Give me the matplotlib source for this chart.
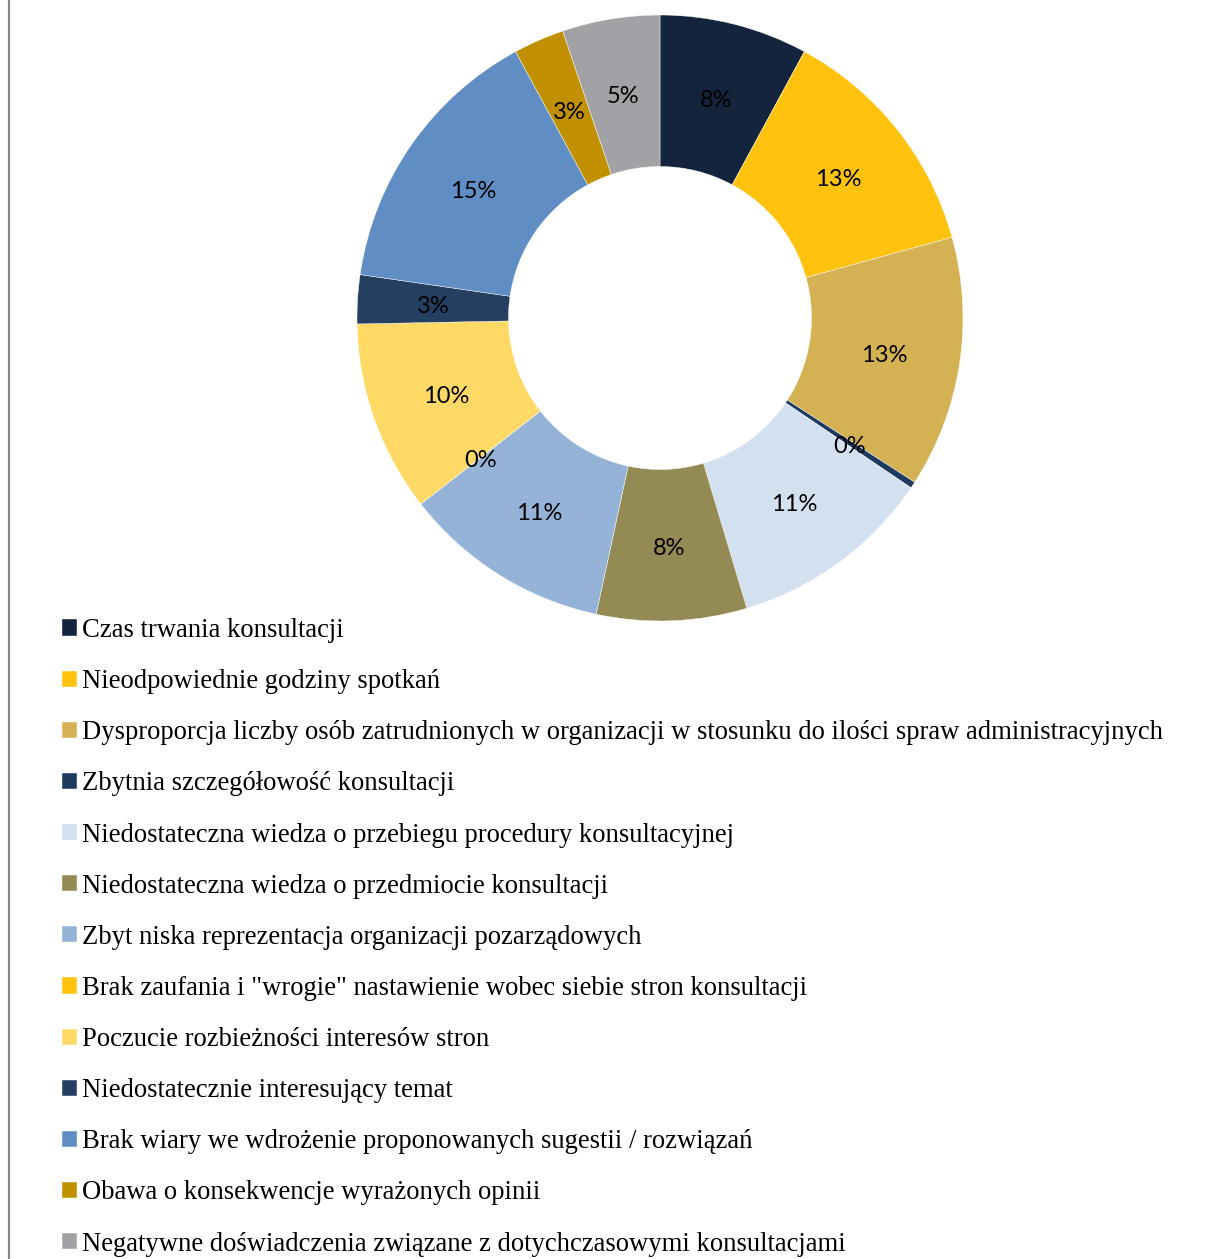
import matplotlib
matplotlib.use("Agg")
import matplotlib.pyplot as plt
from matplotlib.lines import Line2D

W, H = 1206, 1259

labels = [
    "Czas trwania konsultacji",
    "Nieodpowiednie godziny spotkań",
    "Dysproporcja liczby osób zatrudnionych w organizacji w stosunku do ilości spraw administracyjnych",
    "Zbytnia szczegółowość konsultacji",
    "Niedostateczna wiedza o przebiegu procedury konsultacyjnej",
    "Niedostateczna wiedza o przedmiocie konsultacji",
    "Zbyt niska reprezentacja organizacji pozarządowych",
    "Brak zaufania i \"wrogie\" nastawienie wobec siebie stron konsultacji",
    "Poczucie rozbieżności interesów stron",
    "Niedostatecznie interesujący temat",
    "Brak wiary we wdrożenie proponowanych sugestii / rozwiązań",
    "Obawa o konsekwencje wyrażonych opinii",
    "Negatywne doświadczenia związane z dotychczasowymi konsultacjami",
]
# shares in percent
values = [7.9, 12.8, 13.4, 0.35, 10.9, 8.0, 11.1, 0.0, 10.2, 2.6, 14.8, 2.7, 5.2]
colors = ["#14243C", "#FFC30F", "#D4B254", "#1F3A5F", "#D3E0EF", "#948A54",
          "#95B3D7", "#FFC30F", "#FFD966", "#243F60", "#5F8DC4", "#C09000",
          "#A2A2A6"]

fig = plt.figure(figsize=(W / 100, H / 100), dpi=100)

# donut: centre (660, 318) px, outer radius 303 px
cx, cy, r = 660, 318, 303
ax = fig.add_axes([(cx - r) / W, 1 - (cy + r) / H, 2 * r / W, 2 * r / H])
wedges, _, autotexts = ax.pie(
    values, colors=colors, startangle=90, counterclock=False,
    autopct="%.0f%%", pctdistance=0.75,
    wedgeprops=dict(width=0.5, edgecolor="white", linewidth=0.3),
    textprops=dict(fontsize=17, family="Lato", color="black"))
for t in autotexts:
    x, y = t.get_position()
    t.set_position((x, y - 0.01))
ax.set_xlim(-1, 1)
ax.set_ylim(-1, 1)

# legend below the ring
fig.legend(wedges, labels, loc="upper left",
           bbox_to_anchor=(62 / W, 1 - 618 / H), frameon=False,
           prop=dict(family="Liberation Serif", size=19.2),
           handlelength=0.56, handleheight=0.56, handletextpad=0.18,
           labelspacing=0.98, borderaxespad=0, borderpad=0)

# left border of the chart frame
fig.add_artist(Line2D([8.5 / W, 8.5 / W], [0, 1], transform=fig.transFigure,
                      color="#888888", lw=1.6))

fig.savefig("out.png", dpi=100)
